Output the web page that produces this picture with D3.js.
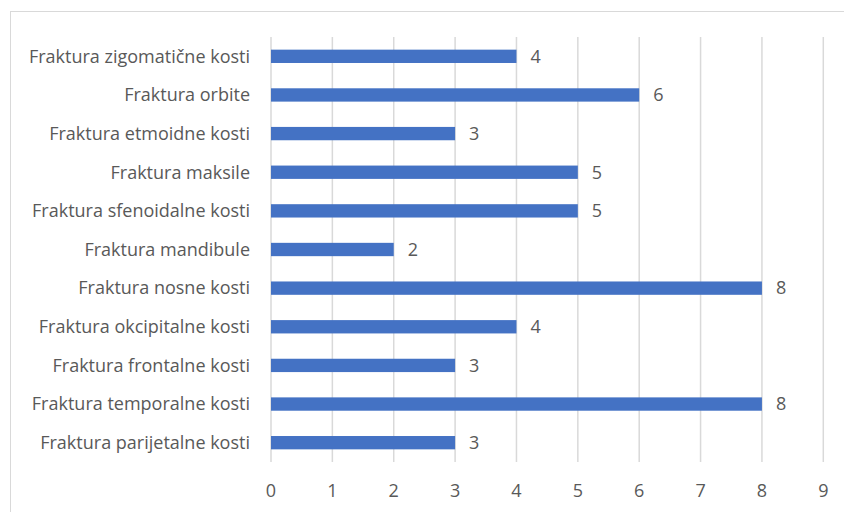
<!DOCTYPE html>
<html>
<head>
<meta charset="utf-8">
<script src="https://cdn.jsdelivr.net/npm/d3@7"></script>
<style>
  body { margin: 0; background: #fff; }
  svg { display: block; }
  text { font-family: "Open Sans", sans-serif; fill: #595959; font-size: 18px; }
</style>
</head>
<body>
<svg></svg>
<script>
// categories top to bottom, as shown in the chart
var categories = [
  'Fraktura zigomatične kosti',
  'Fraktura orbite',
  'Fraktura etmoidne kosti',
  'Fraktura maksile',
  'Fraktura sfenoidalne kosti',
  'Fraktura mandibule',
  'Fraktura nosne kosti',
  'Fraktura okcipitalne kosti',
  'Fraktura frontalne kosti',
  'Fraktura temporalne kosti',
  'Fraktura parijetalne kosti'
];
var counts = [4, 6, 3, 5, 5, 2, 8, 4, 3, 8, 3];
var xTicks = [0, 1, 2, 3, 4, 5, 6, 7, 8, 9];

var width = 844,
    height = 512;

// plot area
var plotLeft = 271, plotRight = 823.3, plotTop = 37, plotBottom = 462;

var svg = d3.select('svg')
  .attr('width', width)
  .attr('height', height);

// chart border
svg.append('rect')
  .attr('x', 10.5).attr('y', 11.5)
  .attr('width', 900).attr('height', 600)
  .attr('fill', 'none')
  .attr('stroke', '#d9d9d9')
  .attr('stroke-width', 1);

var x = d3.scaleLinear()
  .domain([0, 9])
  .range([plotLeft, plotRight]);

var y = d3.scaleBand()
  .domain(categories)
  .range([plotTop, plotBottom])
  .paddingInner(0.655)
  .paddingOuter(0.3275);

// gridlines
svg.append('g')
  .selectAll('line')
  .data(xTicks)
  .enter().append('line')
    .attr('x1', function (d) { return x(d); })
    .attr('x2', function (d) { return x(d); })
    .attr('y1', plotTop)
    .attr('y2', plotBottom)
    .attr('stroke', '#d9d9d9')
    .attr('stroke-width', 1.5);

// x tick labels
svg.append('g')
  .selectAll('text')
  .data(xTicks)
  .enter().append('text')
    .attr('x', function (d) { return x(d); })
    .attr('y', 491)
    .attr('dy', '0.35em')
    .attr('text-anchor', 'middle')
    .text(function (d) { return d; });

// category labels
svg.append('g')
  .selectAll('text')
  .data(categories)
  .enter().append('text')
    .attr('x', 250)
    .attr('y', function (d) { return y(d) + y.bandwidth() / 2; })
    .attr('dy', '0.35em')
    .attr('text-anchor', 'end')
    .text(function (d) { return d; });

// bars
svg.append('g')
  .selectAll('rect')
  .data(counts)
  .enter().append('rect')
    .attr('x', x(0))
    .attr('y', function (d, i) { return y(categories[i]); })
    .attr('width', function (d) { return x(d) - x(0); })
    .attr('height', y.bandwidth())
    .attr('fill', '#4472c4');

// value labels
svg.append('g')
  .selectAll('text')
  .data(counts)
  .enter().append('text')
    .attr('x', function (d) { return x(d) + 14; })
    .attr('y', function (d, i) { return y(categories[i]) + y.bandwidth() / 2; })
    .attr('dy', '0.35em')
    .text(function (d) { return d; });
</script>
</body>
</html>
